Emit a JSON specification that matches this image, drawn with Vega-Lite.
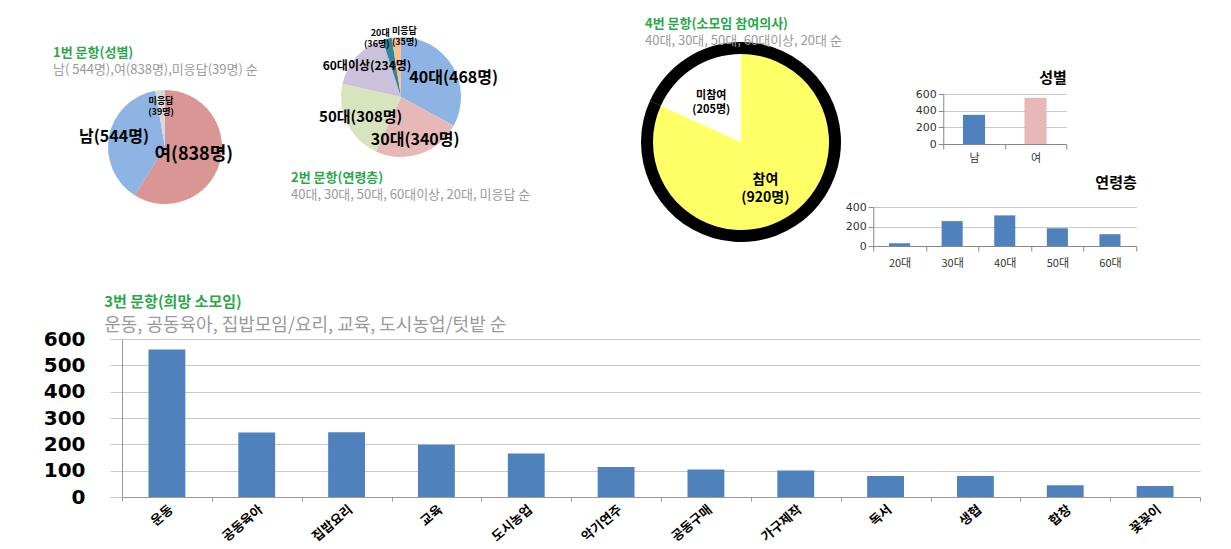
{
  "$schema": "https://vega.github.io/schema/vega-lite/v6.json",
  "background": "white",
  "padding": {"left": 43, "top": 18, "right": 5, "bottom": 0},
  "config": {
    "view": {"stroke": null},
    "font": "Noto Sans CJK KR",
    "axis": {"labelFont": "Noto Sans CJK KR", "titleFont": "Noto Sans CJK KR"},
    "title": {"font": "Noto Sans CJK KR", "subtitleFont": "Noto Sans CJK KR"},
    "text": {"font": "Noto Sans CJK KR", "fontWeight": "bold", "color": "#000000", "lineBreak": "\n"}
  },
  "columns": 1,
  "align": "none",
  "spacing": 27,
  "resolve": {"scale": {"color": "independent", "theta": "independent"}},
  "concat": [
    {
      "align": "none",
      "spacing": 110,
      "resolve": {"scale": {"color": "independent", "theta": "independent"}},
      "concat": [
        {
          "spacing": 33,
          "resolve": {"scale": {"color": "independent", "theta": "independent"}},
          "hconcat": [
            {
              "width": 86,
              "height": 106,
              "title": {
                "text": "1번 문항(성별)",
                "subtitle": "남( 544명),여(838명),미응답(39명) 순",
                "anchor": "start",
                "frame": "group",
                "dx": -69,
                "offset": 10,
                "color": "#2aa84a",
                "fontSize": 13,
                "fontWeight": "bold",
                "subtitleColor": "#9a9a9a",
                "subtitleFontSize": 13,
                "subtitlePadding": 4
              },
              "data": {"values": [
                {"cat": "여", "n": 838, "label": "여(838명)"},
                {"cat": "남", "n": 544, "label": "남(544명)"},
                {"cat": "미응답", "n": 39, "label": "미응답\n(39명)"}
              ]},
              "encoding": {
                "theta": {"field": "n", "type": "quantitative", "stack": true},
                "order": {"field": "n", "type": "quantitative", "sort": "descending"}
              },
              "layer": [
                {"mark": {"type": "arc", "radius": 57},
                 "encoding": {"color": {"field": "cat", "type": "nominal", "scale": {"domain": ["여", "남", "미응답"], "range": ["#d99694", "#8eb4e3", "#d9d9d9"]}, "legend": null}}},
                {"mark": {"type": "text", "radius": 30, "fontSize": 18},
                 "encoding": {"detail": {"field": "cat", "type": "nominal"}, "text": {"condition": {"test": "datum.cat !== '여'", "value": ""}, "field": "label", "type": "nominal"}}},
                {"mark": {"type": "text", "radius": 52, "fontSize": 16},
                 "encoding": {"detail": {"field": "cat", "type": "nominal"}, "text": {"condition": {"test": "datum.cat !== '남'", "value": ""}, "field": "label", "type": "nominal"}}},
                {"mark": {"type": "text", "radius": 46, "fontSize": 9, "lineHeight": 11},
                 "encoding": {"detail": {"field": "cat", "type": "nominal"}, "text": {"condition": {"test": "datum.cat !== '미응답'", "value": ""}, "field": "label", "type": "nominal"}}}
              ]
            },
            {
              "width": 220,
              "height": 6,
              "title": {
                "text": "2번 문항(연령층)",
                "subtitle": "40대, 30대, 50대, 60대이상, 20대, 미응답 순",
                "orient": "bottom",
                "anchor": "start",
                "frame": "group",
                "offset": 7,
                "color": "#2aa84a",
                "fontSize": 13,
                "fontWeight": "bold",
                "subtitleColor": "#9a9a9a",
                "subtitleFontSize": 13,
                "subtitlePadding": 4
              },
              "data": {"values": [
                {"cat": "40대", "n": 468, "label": "40대(468명)"},
                {"cat": "30대", "n": 340, "label": "30대(340명)"},
                {"cat": "50대", "n": 308, "label": "50대(308명)"},
                {"cat": "60대이상", "n": 234, "label": "60대이상(234명)"},
                {"cat": "20대", "n": 36, "label": "20대\n(36명)"},
                {"cat": "미응답", "n": 35, "label": "미응답\n(35명)"}
              ]},
              "encoding": {
                "theta": {"field": "n", "type": "quantitative", "stack": true},
                "order": {"field": "n", "type": "quantitative", "sort": "descending"}
              },
              "layer": [
                {"mark": {"type": "arc", "radius": 60},
                 "encoding": {"color": {"field": "cat", "type": "nominal", "scale": {"domain": ["40대", "30대", "50대", "60대이상", "20대", "미응답"], "range": ["#8eb4e3", "#e6b9b8", "#d7e4bd", "#ccc1da", "#31859c", "#fac090"]}, "legend": null}}},
                {"mark": {"type": "text", "radius": 52, "fontSize": 16, "dx": 8, "dy": 8},
                 "encoding": {"detail": {"field": "cat", "type": "nominal"}, "text": {"condition": {"test": "datum.cat !== '40대'", "value": ""}, "field": "label", "type": "nominal"}}},
                {"mark": {"type": "text", "radius": 45, "fontSize": 16},
                 "encoding": {"detail": {"field": "cat", "type": "nominal"}, "text": {"condition": {"test": "datum.cat !== '30대'", "value": ""}, "field": "label", "type": "nominal"}}},
                {"mark": {"type": "text", "radius": 45, "fontSize": 15},
                 "encoding": {"detail": {"field": "cat", "type": "nominal"}, "text": {"condition": {"test": "datum.cat !== '50대'", "value": ""}, "field": "label", "type": "nominal"}}},
                {"mark": {"type": "text", "radius": 46, "fontSize": 12},
                 "encoding": {"detail": {"field": "cat", "type": "nominal"}, "text": {"condition": {"test": "datum.cat !== '60대이상'", "value": ""}, "field": "label", "type": "nominal"}}},
                {"mark": {"type": "text", "radius": 66, "fontSize": 9, "lineHeight": 11, "align": "right", "dx": 4},
                 "encoding": {"detail": {"field": "cat", "type": "nominal"}, "text": {"condition": {"test": "datum.cat !== '20대'", "value": ""}, "field": "label", "type": "nominal"}}},
                {"mark": {"type": "text", "radius": 66, "fontSize": 9, "lineHeight": 11, "align": "left", "dx": -4},
                 "encoding": {"detail": {"field": "cat", "type": "nominal"}, "text": {"condition": {"test": "datum.cat !== '미응답'", "value": ""}, "field": "label", "type": "nominal"}}}
              ]
            }
          ]
        },
        {
          "title": {
            "text": "4번 문항(소모임 참여의사)",
            "subtitle": "40대, 30대, 50대, 60대이상, 20대 순",
            "anchor": "start",
            "dx": 4,
            "offset": -6,
            "color": "#2aa84a",
            "fontSize": 13,
            "fontWeight": "bold",
            "subtitleColor": "#9a9a9a",
            "subtitleFontSize": 13,
            "subtitlePadding": 4
          },
          "bounds": "flush",
          "spacing": 32,
          "resolve": {"scale": {"color": "independent", "theta": "independent"}},
          "hconcat": [
            {
              "width": 200,
              "height": 96,
              "data": {"values": [
                {"cat": "참여", "n": 920, "label": "참여\n(920명)"},
                {"cat": "미참여", "n": 205, "label": "미참여\n(205명)"}
              ]},
              "encoding": {
                "theta": {"field": "n", "type": "quantitative", "stack": true},
                "order": {"field": "n", "type": "quantitative", "sort": "descending"}
              },
              "layer": [
                {"mark": {"type": "arc", "radius": 88},
                 "encoding": {"color": {"field": "cat", "type": "nominal", "scale": {"domain": ["참여", "미참여"], "range": ["#ffff66", "#ffffff"]}, "legend": null}}},
                {"mark": {"type": "arc", "radius": 100, "radius2": 88, "fill": "#000000"},
                 "encoding": {"detail": {"field": "cat", "type": "nominal"}}},
                {"mark": {"type": "text", "radius": 45, "fontSize": 14, "lineHeight": 18},
                 "encoding": {"detail": {"field": "cat", "type": "nominal"}, "text": {"condition": {"test": "datum.cat !== '참여'", "value": ""}, "field": "label", "type": "nominal"}}},
                {"mark": {"type": "text", "radius": 55, "fontSize": 11, "lineHeight": 14},
                 "encoding": {"detail": {"field": "cat", "type": "nominal"}, "text": {"condition": {"test": "datum.cat !== '미참여'", "value": ""}, "field": "label", "type": "nominal"}}}
              ]
            },
            {
              "center": true,
              "spacing": 13,
              "resolve": {"scale": {"color": "independent"}},
              "vconcat": [
                {
                  "width": 123,
                  "height": 50,
                  "title": {"text": "성별", "anchor": "end", "fontSize": 15, "fontWeight": "bold", "color": "#000000", "offset": 2},
                  "data": {"values": [
                    {"sex": "남", "n": 350},
                    {"sex": "여", "n": 555}
                  ]},
                  "mark": {"type": "bar", "width": {"band": 0.36}},
                  "encoding": {
                    "x": {"field": "sex", "type": "nominal", "sort": null, "scale": {"paddingInner": 0, "paddingOuter": 0},
                          "axis": {"title": null, "labelAngle": 0, "tickBand": "extent", "domainColor": "#888888", "tickColor": "#888888", "labelFontSize": 11, "labelColor": "#333333", "labelPadding": 3}},
                    "y": {"field": "n", "type": "quantitative", "scale": {"domain": [0, 600]},
                          "axis": {"title": null, "values": [0, 200, 400, 600], "gridColor": "#c8c8c8", "domainColor": "#888888", "tickColor": "#888888", "tickSize": 5, "labelFont": "DejaVu Sans", "labelFontSize": 11, "labelColor": "#333333"}},
                    "color": {"field": "sex", "type": "nominal", "scale": {"domain": ["남", "여"], "range": ["#4f81bd", "#e6b9b8"]}, "legend": null}
                  }
                },
                {
                  "width": 263,
                  "height": 39,
                  "title": {"text": "연령층", "anchor": "end", "fontSize": 15, "fontWeight": "bold", "color": "#000000", "offset": 10},
                  "data": {"values": [
                    {"age": "20대", "n": 28},
                    {"age": "30대", "n": 255},
                    {"age": "40대", "n": 314},
                    {"age": "50대", "n": 183},
                    {"age": "60대", "n": 121}
                  ]},
                  "mark": {"type": "bar", "width": {"band": 0.4}, "color": "#4f81bd"},
                  "encoding": {
                    "x": {"field": "age", "type": "nominal", "sort": null, "scale": {"paddingInner": 0, "paddingOuter": 0},
                          "axis": {"title": null, "labelAngle": 0, "tickBand": "extent", "domainColor": "#888888", "tickColor": "#888888", "labelFontSize": 11, "labelColor": "#333333", "labelPadding": 6}},
                    "y": {"field": "n", "type": "quantitative", "scale": {"domain": [0, 400]},
                          "axis": {"title": null, "values": [0, 200, 400], "gridColor": "#c8c8c8", "domainColor": "#888888", "tickColor": "#888888", "tickSize": 5, "labelFont": "DejaVu Sans", "labelFontSize": 11, "labelColor": "#333333"}}
                  }
                }
              ]
            }
          ]
        }
      ]
    },
    {
      "width": 1078,
      "height": 158,
      "title": {
        "text": "3번 문항(희망 소모임)",
        "subtitle": "운동, 공동육아, 집밥모임/요리, 교육, 도시농업/텃밭 순",
        "anchor": "start",
        "dx": 61,
        "offset": -6,
        "color": "#2aa84a",
        "fontSize": 15,
        "fontWeight": "bold",
        "subtitleColor": "#9a9a9a",
        "subtitleFontSize": 18,
        "subtitlePadding": 7
      },
      "data": {"values": [
        {"item": "운동", "n": 560},
        {"item": "공동육아", "n": 245},
        {"item": "집밥요리", "n": 246},
        {"item": "교육", "n": 198},
        {"item": "도시농업", "n": 165},
        {"item": "악기연주", "n": 114},
        {"item": "공동구매", "n": 104},
        {"item": "가구제작", "n": 101},
        {"item": "독서", "n": 80},
        {"item": "생협", "n": 80},
        {"item": "합창", "n": 45},
        {"item": "꽃꽂이", "n": 42}
      ]},
      "mark": {"type": "bar", "width": {"band": 0.41}, "color": "#4f81bd"},
      "encoding": {
        "x": {"field": "item", "type": "nominal", "sort": null, "scale": {"paddingInner": 0, "paddingOuter": 0},
              "axis": {"title": null, "labelAngle": -40, "labelFontSize": 13, "labelFontWeight": "bold", "labelColor": "#000000", "tickBand": "extent", "domainColor": "#999999", "tickColor": "#999999", "tickSize": 4, "labelPadding": 2}},
        "y": {"field": "n", "type": "quantitative", "scale": {"domain": [0, 600]},
              "axis": {"title": null, "values": [0, 100, 200, 300, 400, 500, 600], "labelFont": "DejaVu Sans", "labelFontSize": 20, "labelFontWeight": "bold", "labelColor": "#000000", "gridColor": "#c8c8c8", "tickColor": "#c8c8c8", "tickSize": 12, "labelPadding": 25, "domainColor": "#999999"}}
      }
    }
  ]
}
